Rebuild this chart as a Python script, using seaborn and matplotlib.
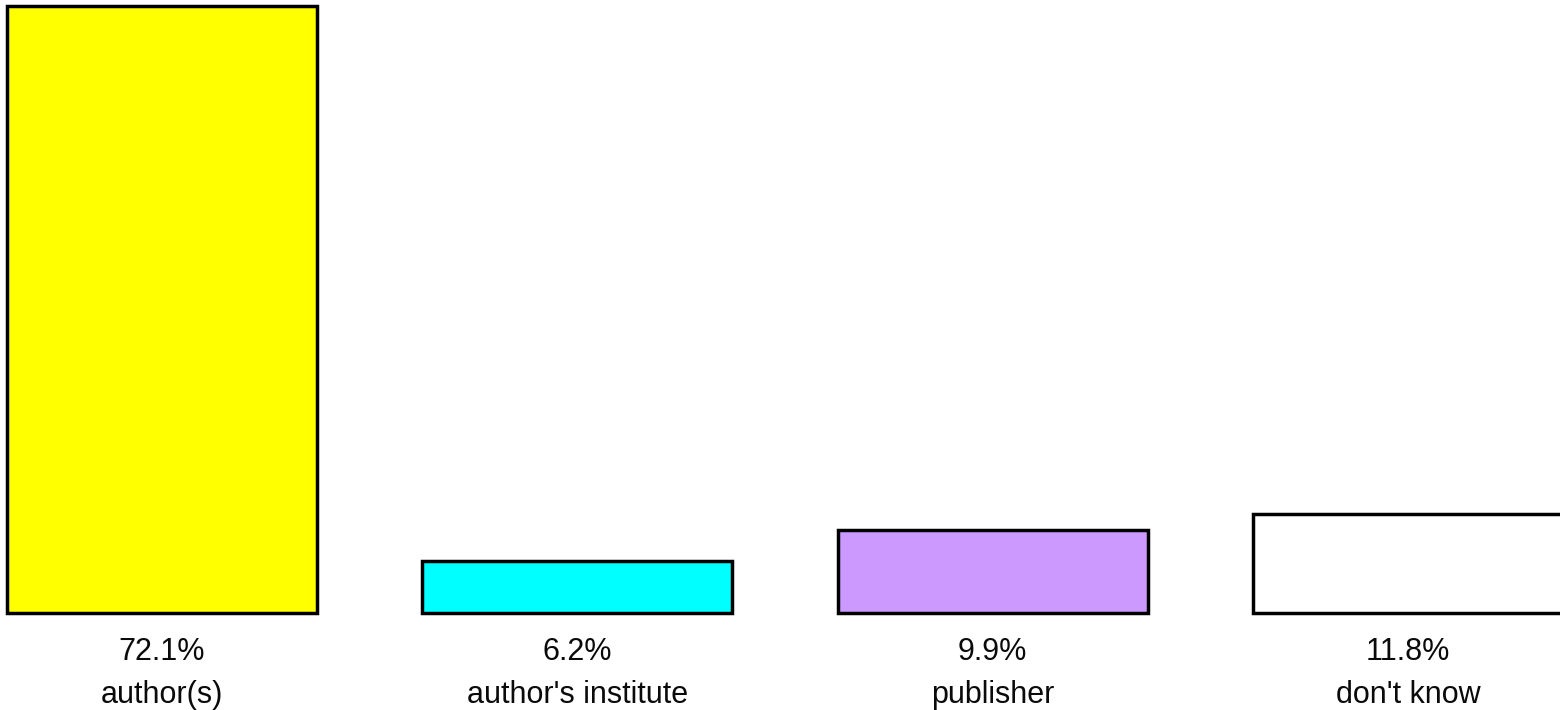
import matplotlib
matplotlib.use("Agg")
import matplotlib.pyplot as plt
import seaborn as sns
import pandas as pd

# -----------------------------
# Data
# -----------------------------
categories = ["author(s)", "author's institute", "publisher", "don't know"]
shares = [72.1, 6.2, 9.9, 11.8]
bar_colors = ["#FFFF00", "#00FFFF", "#CC99FF", "#FFFFFF"]

df = pd.DataFrame({"category": categories, "share": shares})

sns.set_style("white")
plt.rcParams['font.family'] = ['Liberation Sans Narrow', 'Liberation Sans', 'DejaVu Sans']

fig = plt.figure(figsize=(15.6, 7.1), dpi=100)
ax = fig.add_axes([0, 97 / 710, 1, 613 / 710])

sns.barplot(data=df, x="category", y="share", hue="category", palette=bar_colors,
            saturation=1, width=0.746, edgecolor="black", linewidth=2.5,
            legend=False, ax=ax)
for p in ax.patches:
    p.set_clip_on(False)

# labels under each bar: percent on top line, category below
ax.set_xticks(range(len(categories)))
ax.set_xticklabels([f"{v:.1f}%\n{c}" for v, c in zip(shares, categories)],
                   fontsize=22, color="#0a0a0a", linespacing=1.6)
ax.tick_params(axis="x", length=0, pad=17)

ax.set_xlim(-0.390, 3.366)
ax.set_ylim(0, 72.8)
ax.set_yticks([])
ax.set_xlabel("")
ax.set_ylabel("")
for s in ax.spines.values():
    s.set_visible(False)

fig.savefig("out.png", dpi=100)
